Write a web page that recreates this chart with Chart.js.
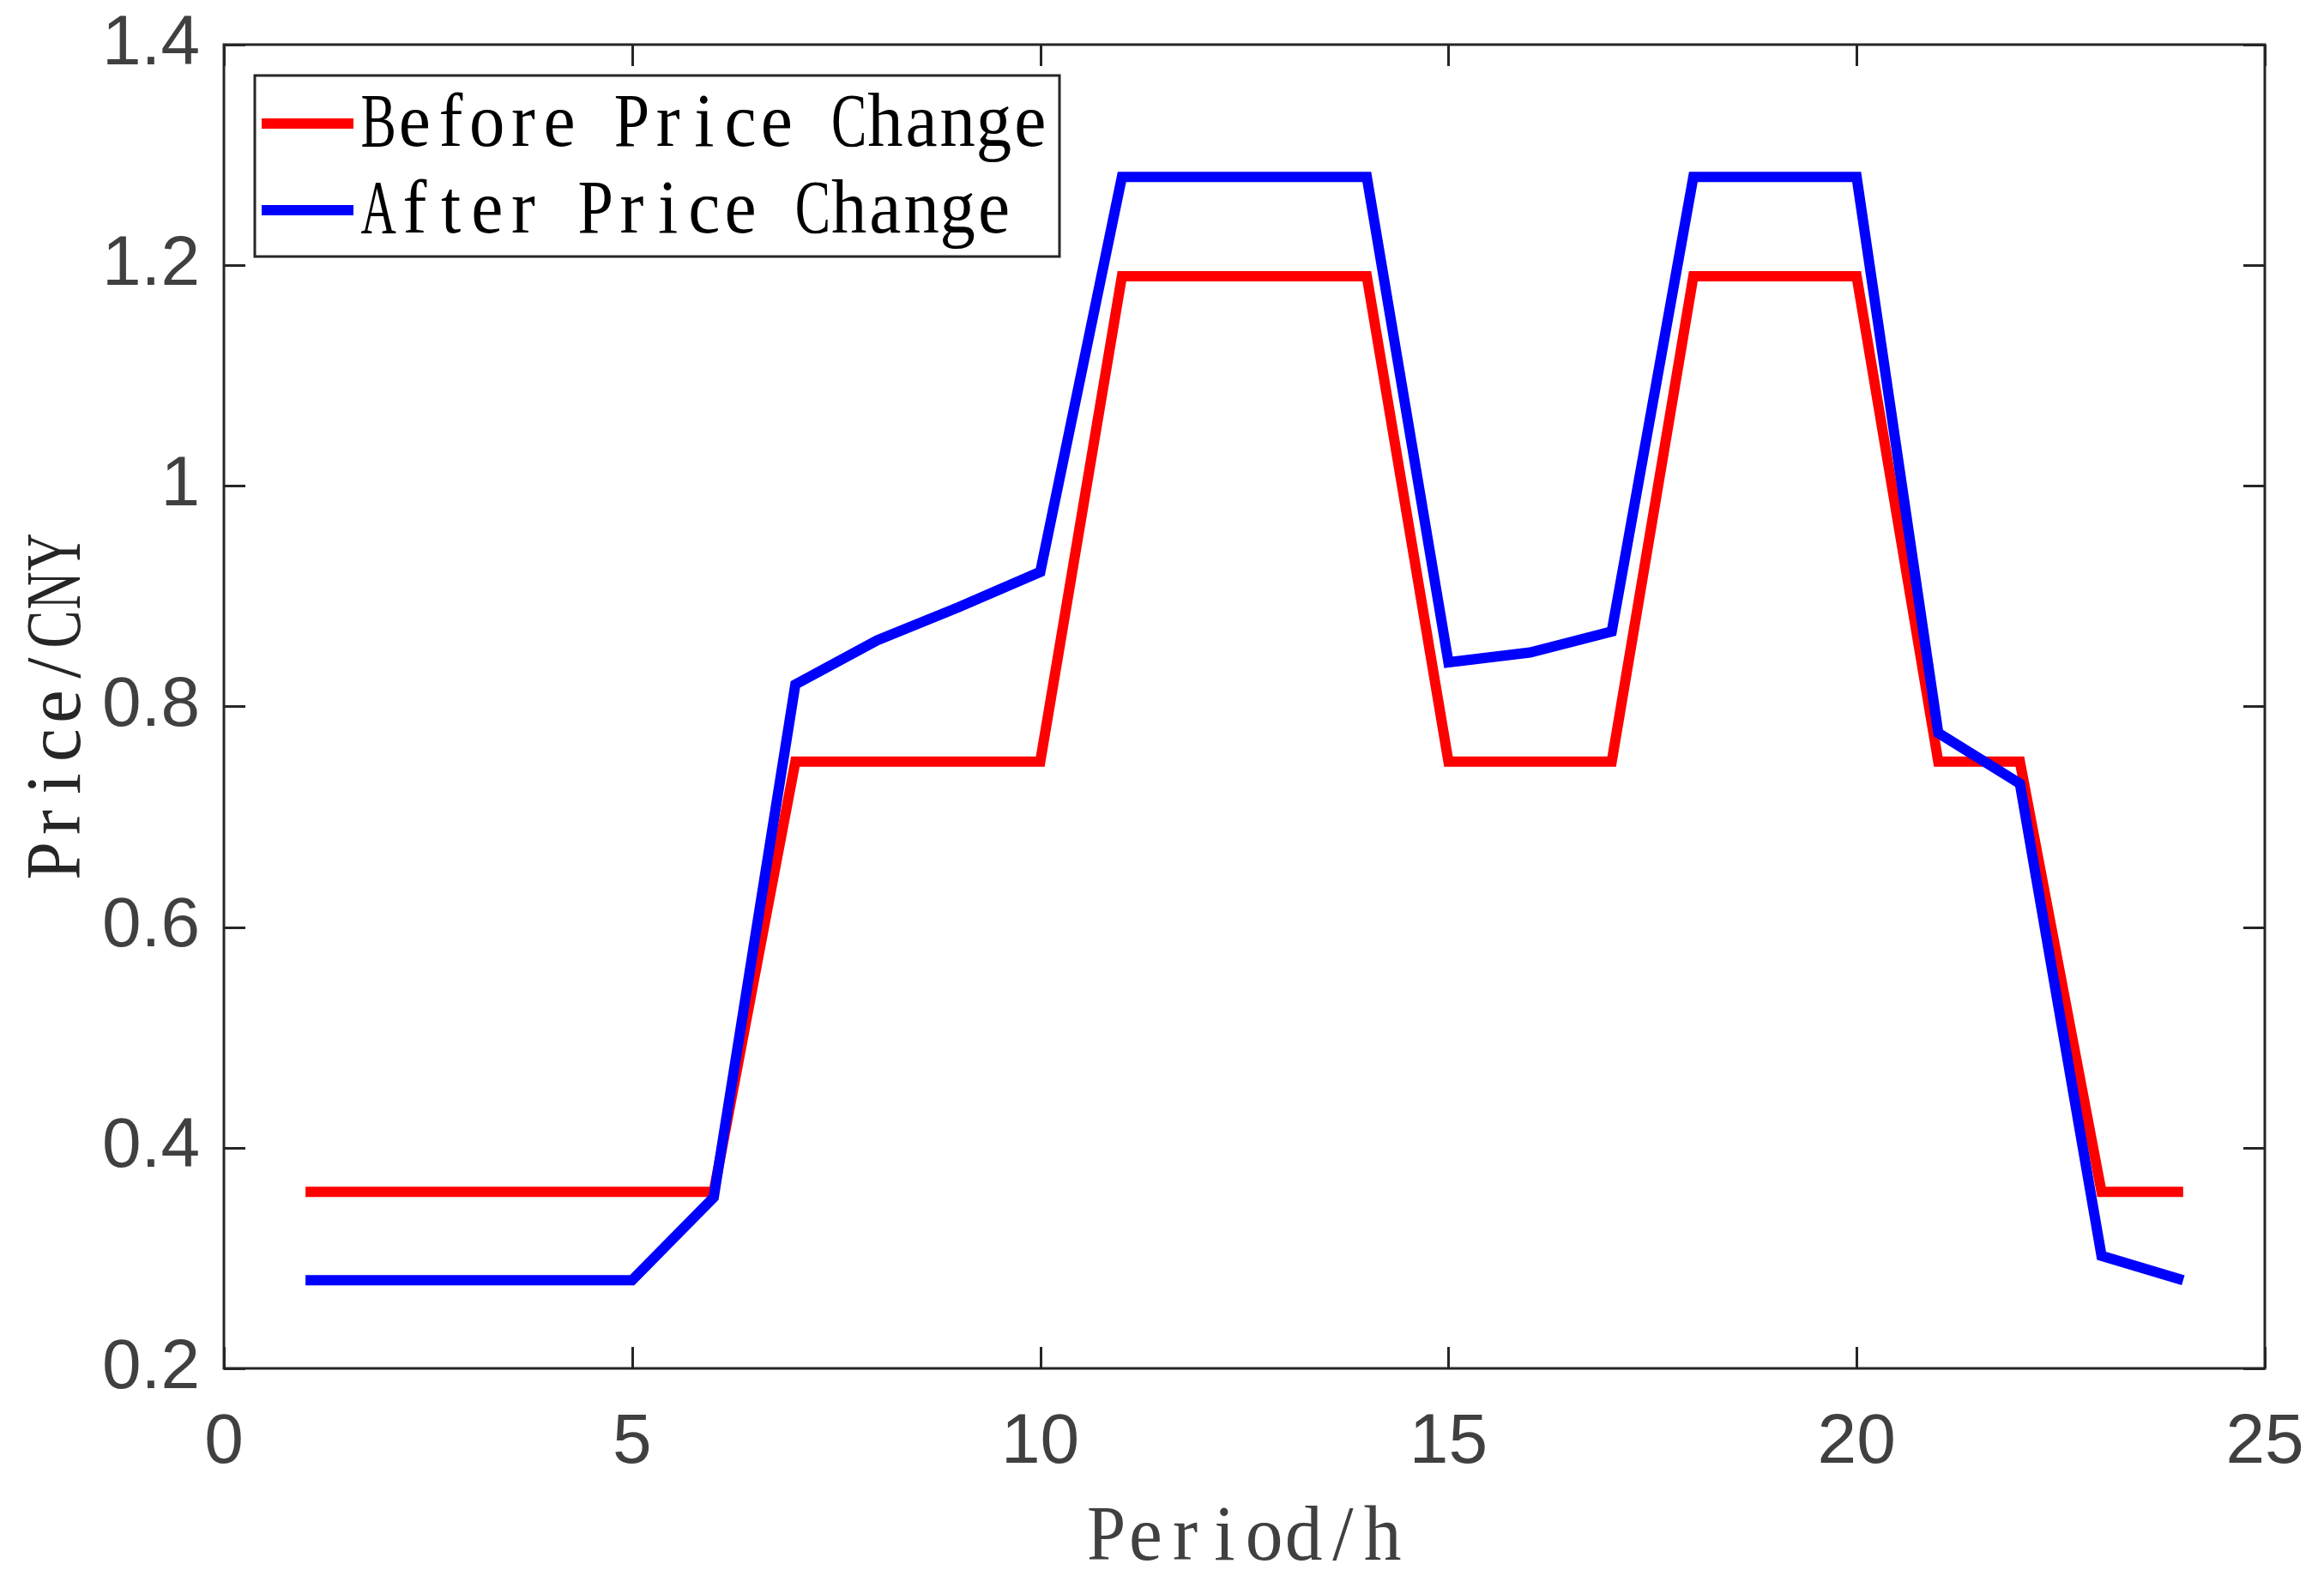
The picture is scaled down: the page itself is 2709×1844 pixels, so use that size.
<!DOCTYPE html>
<html><head><meta charset="utf-8">
<style>html,body{margin:0;padding:0;background:#fff;}#wrap{width:2709px;height:1844px;position:relative;}</style>
<script src="https://cdn.jsdelivr.net/npm/chart.js@4.4.1/dist/chart.umd.min.js"></script>
</head><body><div id="wrap"><canvas id="c" width="2709" height="1844"></canvas></div>
<script>
const hours = [1,2,3,4,5,6,7,8,9,10,11,12,13,14,15,16,17,18,19,20,21,22,23,24];
const beforePrice = [0.36,0.36,0.36,0.36,0.36,0.36,0.75,0.75,0.75,0.75,1.19,1.19,1.19,1.19,0.75,0.75,0.75,1.19,1.19,1.19,0.75,0.75,0.36,0.36];
const afterPrice = [0.28,0.28,0.28,0.28,0.28,0.355,0.82,0.86,0.89,0.922,1.28,1.28,1.28,1.28,0.84,0.849,0.868,1.28,1.28,1.28,0.776,0.73,0.302,0.28];
const seriesNames = ['Before Price Change','After Price Change'];
const seriesColors = ['#FF0000','#0000FF'];
const xTicks = [0,5,10,15,20,25];
const yTicks = [0.2,0.4,0.6,0.8,1.0,1.2,1.4];
const xTitle = 'Period/h';
const yTitle = 'Price/CNY';

const AXIS = '#262626';
function drawMono(ctx, text, x, y, cell, font, color, sx) {
  ctx.save();
  ctx.font = font; ctx.fillStyle = color; ctx.textBaseline = 'alphabetic'; ctx.textAlign = 'left';
  for (let i = 0; i < text.length; i++) {
    const ch = text[i];
    const raw = ctx.measureText(ch).width;
    const s = Math.min(sx, (cell * 0.98) / raw);
    const w = raw * s;
    const cx = x + i * cell + (cell - w) / 2;
    ctx.save(); ctx.translate(cx, y); ctx.scale(s, 1); ctx.fillText(ch, 0, 0); ctx.restore();
  }
  ctx.restore();
}
const framePlugin = {
  id: 'frame',
  afterDatasetsDraw(chart) {
    const ctx = chart.ctx, a = chart.chartArea, xs = chart.scales.x, ys = chart.scales.y;
    ctx.save();
    ctx.strokeStyle = AXIS; ctx.lineWidth = 3; ctx.lineCap = 'butt';
    const tl = 25;
    ctx.beginPath();
    xTicks.forEach(v => { const p = Math.round(xs.getPixelForValue(v)) + 0.5;
      ctx.moveTo(p, a.bottom); ctx.lineTo(p, a.bottom - tl);
      ctx.moveTo(p, a.top); ctx.lineTo(p, a.top + tl); });
    yTicks.forEach(v => { const p = Math.round(ys.getPixelForValue(v)) + 0.5;
      ctx.moveTo(a.left, p); ctx.lineTo(a.left + tl, p);
      ctx.moveTo(a.right, p); ctx.lineTo(a.right - tl, p); });
    ctx.stroke();
    ctx.strokeRect(a.left, a.top, a.right - a.left, a.bottom - a.top);
    // legend
    const lx = 297, ly = 88, lw = 938, lh = 211;
    ctx.fillStyle = '#fff'; ctx.fillRect(lx, ly, lw, lh);
    ctx.strokeRect(lx, ly, lw, lh);
    const rowY = [144, 245], baseY = [170, 271];
    seriesNames.forEach((n, i) => {
      ctx.strokeStyle = seriesColors[i]; ctx.lineWidth = 12;
      ctx.beginPath(); ctx.moveTo(305, rowY[i]); ctx.lineTo(412, rowY[i]); ctx.stroke();
      drawMono(ctx, n, 420, baseY[i], 42.2, '88px "Liberation Serif"', '#000', 0.95);
    });
    // axis titles
    const xc = (a.left + a.right) / 2;
    drawMono(ctx, xTitle, xc - xTitle.length * 46 / 2, 1818, 46, '92px "Liberation Serif"', '#404040', 0.95);
    const yc = (a.top + a.bottom) / 2;
    ctx.save(); ctx.translate(93, yc + yTitle.length * 45 / 2); ctx.rotate(-Math.PI / 2);
    drawMono(ctx, yTitle, 0, 0, 45, '92px "Liberation Serif"', '#262626', 0.95);
    ctx.restore();
    ctx.restore();
  }
};

new Chart(document.getElementById('c'), {
  type: 'line',
  data: {
    datasets: [
      { label: seriesNames[0], data: hours.map((h, i) => ({x: h, y: beforePrice[i]})), borderColor: seriesColors[0], borderWidth: 12, pointRadius: 0, tension: 0, fill: false, order: 1 },
      { label: seriesNames[1], data: hours.map((h, i) => ({x: h, y: afterPrice[i]})), borderColor: seriesColors[1], borderWidth: 12, pointRadius: 0, tension: 0, fill: false, order: 0 }
    ]
  },
  options: {
    responsive: false, devicePixelRatio: 1, animation: false,
    layout: { padding: { top: 52, right: 69, left: 0, bottom: 0 } },
    plugins: { legend: { display: false }, tooltip: { enabled: false } },
    scales: {
      x: { type: 'linear', min: 0, max: 25,
        afterFit(s) { s.height = 249; s.paddingLeft = 0; s.paddingRight = 0; },
        afterBuildTicks(s) { s.ticks = xTicks.map(v => ({value: v})); },
        grid: { display: false, drawTicks: false }, border: { display: false },
        ticks: { padding: 38, color: '#404040', font: { family: 'Liberation Sans', size: 82 }, maxRotation: 0, autoSkip: false, callback: v => String(v) } },
      y: { type: 'linear', min: 0.2, max: 1.4,
        afterFit(s) { s.width = 261; s.paddingTop = 0; s.paddingBottom = 0; },
        afterBuildTicks(s) { s.ticks = yTicks.map(v => ({value: v})); },
        grid: { display: false, drawTicks: false }, border: { display: false },
        ticks: { padding: 28, color: '#404040', font: { family: 'Liberation Sans', size: 82 }, autoSkip: false, callback: v => String(Number(v.toFixed(1))) } }
    }
  },
  plugins: [framePlugin]
});
</script></body></html>
